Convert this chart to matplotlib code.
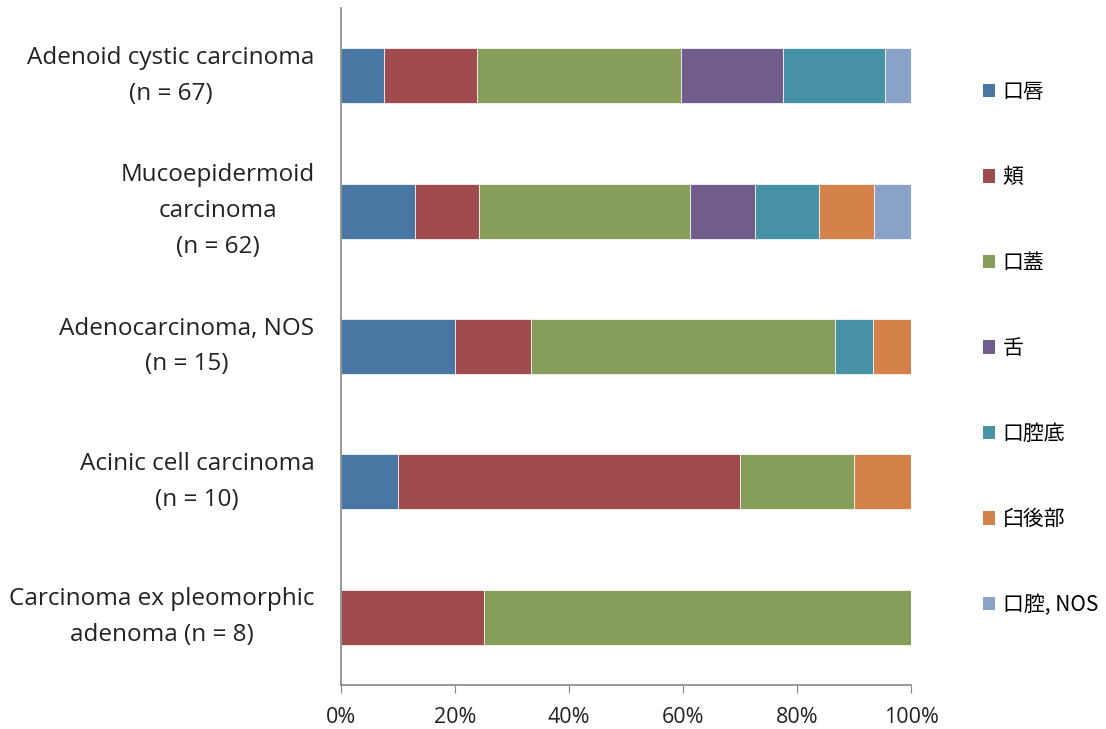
import matplotlib
matplotlib.use("Agg")
import matplotlib.pyplot as plt
import numpy as np

categories = [
    "Adenoid cystic carcinoma\n(n = 67)",
    "Mucoepidermoid\ncarcinoma\n(n = 62)",
    "Adenocarcinoma, NOS\n(n = 15)",
    "Acinic cell carcinoma\n(n = 10)",
    "Carcinoma ex pleomorphic\nadenoma (n = 8)",
]
sites = ["口唇", "頬", "口蓋", "舌", "口腔底", "臼後部", "口腔, NOS"]
colors = ["#4A76A4", "#A04B4D", "#869E5A", "#705D8C", "#4892A6", "#D4824A", "#8AA2C8"]

# case counts per site (rows follow categories)
counts = np.array([
    [5, 11, 24, 12, 12, 0, 3],
    [8, 7, 23, 7, 7, 6, 4],
    [3, 2, 8, 0, 1, 1, 0],
    [1, 6, 2, 0, 0, 1, 0],
    [0, 2, 6, 0, 0, 0, 0],
])
tick_vals = [0, 20, 40, 60, 80, 100]
tick_labels = ["0%", "20%", "40%", "60%", "80%", "100%"]

pct = counts / counts.sum(axis=1, keepdims=True) * 100

fig = plt.figure(figsize=(11.06, 7.29), dpi=100)
ax = fig.add_axes([341 / 1106, 1 - 685 / 729, 570 / 1106, 677 / 729])

y = np.arange(len(categories))
left = np.zeros(len(categories))
for j, site in enumerate(sites):
    ax.barh(y, pct[:, j], left=left, height=0.405, color=colors[j],
            edgecolor="white", linewidth=0.5, label=site)
    left += pct[:, j]

ax.set_xlim(0, 100)
ax.set_ylim(len(categories) - 0.5, -0.5)
ax.set_yticks(y)
ax.set_yticklabels(categories, fontsize=17.5, family=["Open Sans", "DejaVu Sans"],
                   multialignment="center", linespacing=1.65, color="#222222")
for lbl in ax.get_yticklabels():
    lbl.set_va("center")
ax.set_xticks(tick_vals)
ax.set_xticklabels(tick_labels, fontsize=15.5, family=["Open Sans", "DejaVu Sans"], color="#222222")
ax.tick_params(axis="y", length=0, pad=19)
ax.tick_params(axis="x", direction="out", length=6, color="#868686", pad=10)

for s in ["top", "right"]:
    ax.spines[s].set_visible(False)
for s in ["left", "bottom"]:
    ax.spines[s].set_color("#868686")
    ax.spines[s].set_linewidth(1.2)

handles, labels = ax.get_legend_handles_labels()
leg = fig.legend(handles, labels, loc="upper left", bbox_to_anchor=(964 / 1106, 1 - 62 / 729),
                 frameon=False, handlelength=0.6, handleheight=0.6, handletextpad=0.35,
                 labelspacing=3.05, prop={"family": ["Noto Sans CJK JP", "DejaVu Sans"], "size": 15})
for h in leg.legend_handles:
    h.set_edgecolor("none")

fig.savefig("out.png", dpi=100)
